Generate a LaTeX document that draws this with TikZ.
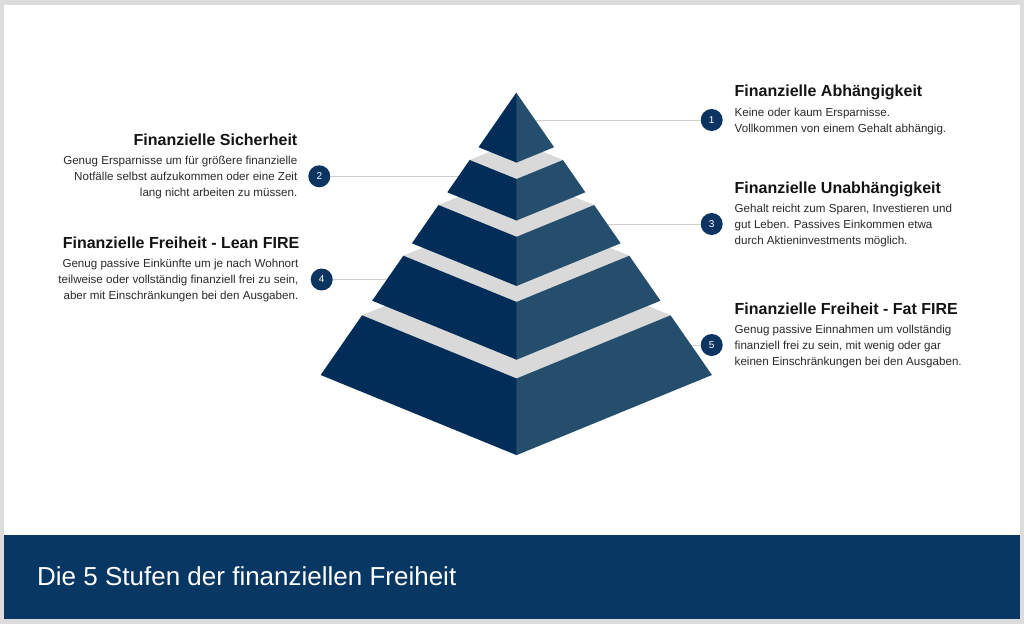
\documentclass[tikz,border=0pt]{standalone}
\usepackage{fontspec}
\setmainfont{Liberation Sans}
\definecolor{frameg}{HTML}{DCDCDC}
\definecolor{navyL}{HTML}{012D58}
\definecolor{navyR}{HTML}{244E6C}
\definecolor{bandg}{HTML}{D9D9D9}
\definecolor{banner}{HTML}{083763}
\definecolor{circ}{HTML}{0B3461}
\definecolor{lineg}{HTML}{CFCFCF}
\definecolor{ttl}{HTML}{141414}
\definecolor{bdy}{HTML}{2A2A2A}
\newcommand\pyrtier[2]{%
  \pgfmathsetmacro\hwt{0.693*(#1-92.7)}%
  \pgfmathsetmacro\hwb{0.693*(#2-92.7)}%
  \pgfmathsetmacro\xlt{516.3-\hwt}%
  \pgfmathsetmacro\xrt{516.3+\hwt}%
  \pgfmathsetmacro\xlb{516.3-\hwb}%
  \pgfmathsetmacro\xrb{516.3+\hwb}%
  \pgfmathsetmacro\yft{#1+0.41*\hwt}%
  \pgfmathsetmacro\ybt{#1-0.41*\hwt}%
  \pgfmathsetmacro\yfb{#2+0.41*\hwb}%
  \fill[bandg] (\xlt,#1) -- (516.3,\yft) -- (\xrt,#1) -- (516.3,\ybt) -- cycle;
  \fill[navyL] (\xlt,#1) -- (\xlb,#2) -- (516.8,\yfb) -- (516.8,\yft) -- cycle;
  \fill[navyR] (\xrt,#1) -- (\xrb,#2) -- (516.3,\yfb) -- (516.3,\yft) -- cycle;
}
\tikzset{
  numdot/.style={circle, fill=circ, minimum size=22pt, inner sep=0pt, text=white, font=\fontsize{10}{10}\selectfont},
  ttlR/.style={anchor=base west, inner sep=0pt, text=ttl, font=\fontsize{16}{16}\selectfont\bfseries},
  ttlL/.style={anchor=base east, inner sep=0pt, text=ttl, font=\fontsize{16}{16}\selectfont\bfseries},
  bodyR/.style={anchor=base west, inner sep=0pt, text=bdy, font=\fontsize{11.6}{14}\selectfont},
  bodyL/.style={anchor=base east, inner sep=0pt, text=bdy, font=\fontsize{11.6}{14}\selectfont},
  conn/.style={draw=lineg, line width=0.9pt}
}
\begin{document}
\begin{tikzpicture}[x=1pt,y=-1pt]
\useasboundingbox (0,0) rectangle (1024,624);
\fill[frameg] (0,0) rectangle (1024,624);
\fill[white] (4,5) rectangle (1020,535);
\fill[banner] (4,535) rectangle (1020,619);
\node[anchor=base west, inner sep=0pt, text=white, font=\fontsize{26}{26}\selectfont] (bt) at (37,585.7) {Die 5 Stufen der finanziellen Freiheit};

% numbered markers
\node[numdot] (n1) at (711.7,120) {1};
\node[numdot] (n2) at (319.3,176.3) {2};
\node[numdot] (n3) at (711.7,224) {3};
\node[numdot] (n4) at (321.7,279.5) {4};
\node[numdot] (n5) at (711.7,345) {5};
\coordinate (p1) at (516.3,120);
\coordinate (p2) at (516.3,176.3);
\coordinate (p3) at (516.3,224);
\coordinate (p4) at (516.3,279.5);
\coordinate (p5) at (516.3,345);
\draw[conn] (n1) -- (p1);
\draw[conn] (n2) -- (p2);
\draw[conn] (n3) -- (p3);
\draw[conn] (n4) -- (p4);
\draw[conn] (n5) -- (p5);

% pyramid, bottom tier first
\pyrtier{315.3}{375}
\pyrtier{255.7}{300.7}
\pyrtier{205}{243.3}
\pyrtier{160}{192.3}
\pgfmathsetmacro\hwb{0.693*(147.2-92.7)}
\pgfmathsetmacro\yfb{147.2+0.41*\hwb}
\fill[navyL] (516.3,92.7) -- ({516.3-\hwb},147.2) -- (516.8,\yfb) -- (516.8,93.5) -- cycle;
\fill[navyR] (516.3,92.7) -- ({516.3+\hwb},147.2) -- (516.3,\yfb) -- cycle;

% right texts
\node[ttlR] (t1) at (734.5,96.8) {Finanzielle Abhängigkeit};
\node[bodyR] (b1a) at (734.5,116) {Keine oder kaum Ersparnisse.};
\node[bodyR] (b1b) at (734.5,132) {Vollkommen von einem Gehalt abhängig.};

\node[ttlR] (t3) at (734.5,193) {Finanzielle Unabhängigkeit};
\node[bodyR] (b3a) at (734.5,212) {Gehalt reicht zum Sparen, Investieren und};
\node[bodyR] (b3b) at (734.5,228) {gut Leben. Passives Einkommen etwa};
\node[bodyR] (b3c) at (734.5,244) {durch Aktieninvestments möglich.};

\node[ttlR] (t5) at (734.5,314.3) {Finanzielle Freiheit - Fat FIRE};
\node[bodyR] (b5a) at (734.5,333) {Genug passive Einnahmen um vollständig};
\node[bodyR] (b5b) at (734.5,349) {finanziell frei zu sein, mit wenig oder gar};
\node[bodyR] (b5c) at (734.5,365) {keinen Einschränkungen bei den Ausgaben.};

% left texts
\node[ttlL] (t2) at (297.5,145.7) {Finanzielle Sicherheit};
\node[bodyL] (b2a) at (297.5,164.7) {Genug Ersparnisse um für größere finanzielle};
\node[bodyL] (b2b) at (297.5,180.7) {Notfälle selbst aufzukommen oder eine Zeit};
\node[bodyL] (b2c) at (297.5,196.7) {lang nicht arbeiten zu müssen.};

\node[ttlL] (t4) at (299.5,248) {Finanzielle Freiheit - Lean FIRE};
\node[bodyL] (b4a) at (298.5,267) {Genug passive Einkünfte um je nach Wohnort};
\node[bodyL] (b4b) at (298.5,283) {teilweise oder vollständig finanziell frei zu sein,};
\node[bodyL] (b4c) at (298.5,299) {aber mit Einschränkungen bei den Ausgaben.};
\end{tikzpicture}
\end{document}
